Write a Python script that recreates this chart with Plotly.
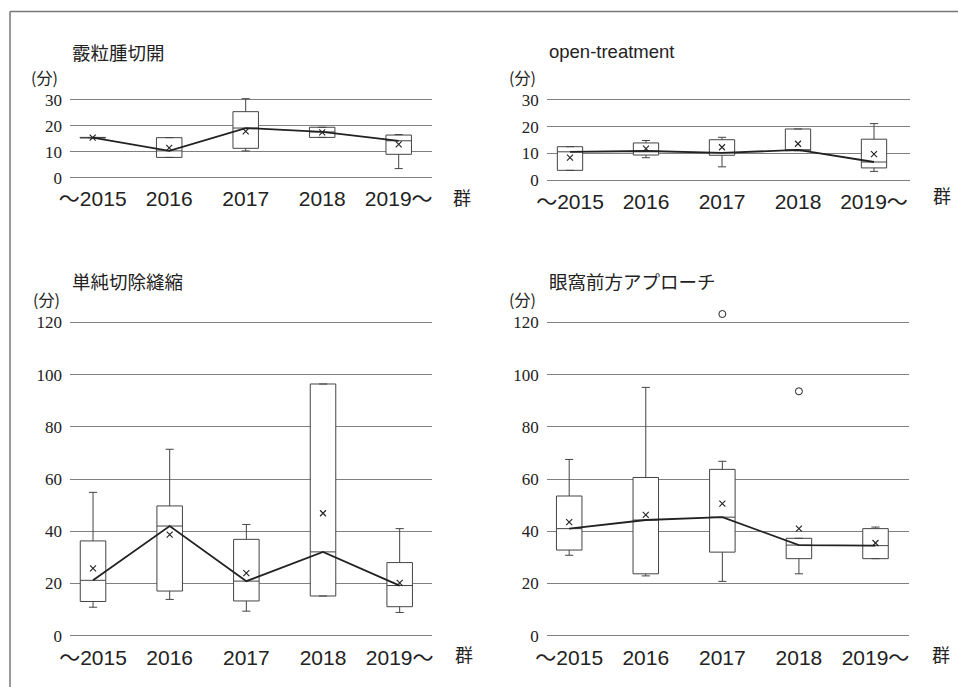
import plotly.graph_objects as go

# ---------------- data ----------------
groups = ["〜2015", "2016", "2017", "2018", "2019〜"]
x_label = "群"
y_unit = "(分)"

# Panel 1: 霰粒腫切開
p1_title = "霰粒腫切開"
p1_q1 = [15.3, 7.8, 11.3, 15.5, 9.0]
p1_median = [15.4, 10.3, 19.1, 17.6, 14.2]
p1_q3 = [15.5, 15.4, 25.4, 19.4, 16.4]
p1_low = [15.3, 7.8, 10.3, 15.5, 3.5]
p1_high = [15.5, 15.4, 30.4, 19.4, 16.6]
p1_mean = [15.4, 11.5, 17.8, 17.4, 12.8]
p1_out_x = []
p1_out_y = []
p1_ticks = [0, 10, 20, 30]

# Panel 2: open-treatment
p2_title = "open-treatment"
p2_q1 = [3.7, 9.4, 9.3, 11.0, 4.6]
p2_median = [10.6, 10.9, 10.2, 11.3, 6.8]
p2_q3 = [12.5, 13.9, 15.1, 19.1, 15.3]
p2_low = [3.7, 8.4, 5.0, 11.0, 3.3]
p2_high = [12.5, 14.8, 16.0, 19.1, 21.1]
p2_mean = [8.4, 11.8, 12.3, 13.6, 9.7]
p2_out_x = []
p2_out_y = []
p2_ticks = [0, 10, 20, 30]

# Panel 3: 単純切除縫縮
p3_title = "単純切除縫縮"
p3_q1 = [13.1, 17.1, 13.3, 15.2, 11.1]
p3_median = [21.2, 42.0, 20.9, 32.1, 19.2]
p3_q3 = [36.3, 49.7, 36.9, 96.4, 28.0]
p3_low = [10.9, 13.9, 9.4, 15.2, 8.9]
p3_high = [54.9, 71.4, 42.6, 96.4, 41.0]
p3_mean = [25.8, 38.7, 24.0, 46.9, 20.2]
p3_out_x = []
p3_out_y = []
p3_ticks = [0, 20, 40, 60, 80, 100, 120]

# Panel 4: 眼窩前方アプローチ
p4_title = "眼窩前方アプローチ"
p4_q1 = [32.8, 23.7, 32.0, 29.5, 29.5]
p4_median = [41.0, 44.3, 45.4, 34.7, 34.5]
p4_q3 = [53.5, 60.6, 63.7, 37.3, 41.0]
p4_low = [30.8, 22.9, 20.8, 23.7, 29.5]
p4_high = [67.5, 95.1, 66.8, 37.3, 41.6]
p4_mean = [43.5, 46.3, 50.6, 41.0, 35.5]
p4_out_x = ["2017", "2018"]
p4_out_y = [123.2, 93.6]
p4_ticks = [0, 20, 40, 60, 80, 100, 120]

# ---------------- layout helpers ----------------
W, H = 958, 687
INK = "#222222"
BOXLINE = "#444444"
GRID = "#808080"
SANS = "Liberation Sans, Noto Sans CJK JP, sans-serif"
SERIF = "Liberation Serif, Noto Serif CJK JP, serif"
JP = "Noto Sans CJK JP, sans-serif"


def px_x(v):
    return v / W


def px_y(v):
    return 1 - v / H


fig = go.Figure()

panels = [
    dict(title=p1_title, q1=p1_q1, med=p1_median, q3=p1_q3, lo=p1_low, hi=p1_high,
         mean=p1_mean, ox=p1_out_x, oy=p1_out_y, ticks=p1_ticks,
         xdom=(70, 432), xr=(-0.2967, 4.4353), ydom=(95.8, 179.0), yr=(-0.5, 31.5),
         tpos=(70, 51.7), upos=(44, 77), gpos=(461.7, 196.7)),
    dict(title=p2_title, q1=p2_q1, med=p2_median, q3=p2_q3, lo=p2_low, hi=p2_high,
         mean=p2_mean, ox=p2_out_x, oy=p2_out_y, ticks=p2_ticks,
         xdom=(546.7, 910), xr=(-0.3066, 4.4737), ydom=(95.7, 181.6), yr=(-0.5, 31.5),
         tpos=(546.7, 51.7), upos=(522, 77), gpos=(941.7, 195)),
    dict(title=p3_title, q1=p3_q1, med=p3_median, q3=p3_q3, lo=p3_low, hi=p3_high,
         mean=p3_mean, ox=p3_out_x, oy=p3_out_y, ticks=p3_ticks,
         xdom=(70, 432.3), xr=(-0.3003, 4.4256), ydom=(304.1, 638.3), yr=(-1, 127),
         tpos=(70, 280.7), upos=(46.7, 299.3), gpos=(464, 654)),
    dict(title=p4_title, q1=p4_q1, med=p4_median, q3=p4_q3, lo=p4_low, hi=p4_high,
         mean=p4_mean, ox=p4_out_x, oy=p4_out_y, ticks=p4_ticks,
         xdom=(546.7, 909), xr=(-0.2938, 4.4375), ydom=(304.1, 638.3), yr=(-1, 127),
         tpos=(546.7, 280.7), upos=(522.3, 299.3), gpos=(941, 654)),
]

idx = list(range(len(groups)))
annotations = []
layout_axes = {}

for i, p in enumerate(panels, start=1):
    xa = "x" if i == 1 else f"x{i}"
    ya = "y" if i == 1 else f"y{i}"
    fig.add_trace(go.Box(
        x=idx, q1=p["q1"], median=p["med"], q3=p["q3"],
        lowerfence=p["lo"], upperfence=p["hi"],
        width=0.333, whiskerwidth=0.32,
        fillcolor="white", line=dict(color=BOXLINE, width=1),
        boxpoints=False, showlegend=False, hoverinfo="skip",
        xaxis=xa, yaxis=ya,
    ))
    fig.add_trace(go.Scatter(
        x=idx, y=p["med"], mode="lines",
        line=dict(color=INK, width=1.8), showlegend=False, hoverinfo="skip",
        xaxis=xa, yaxis=ya,
    ))
    fig.add_trace(go.Scatter(
        x=idx, y=p["mean"], mode="markers",
        marker=dict(symbol="x-thin", size=6, line=dict(color=INK, width=1.1)),
        showlegend=False, hoverinfo="skip", xaxis=xa, yaxis=ya,
    ))
    if p["ox"]:
        fig.add_trace(go.Scatter(
            x=[groups.index(g) for g in p["ox"]], y=p["oy"], mode="markers",
            marker=dict(symbol="circle-open", size=7, color=INK, line=dict(color=INK, width=1)),
            showlegend=False, hoverinfo="skip", xaxis=xa, yaxis=ya, cliponaxis=False,
        ))

    xkey = "xaxis" if i == 1 else f"xaxis{i}"
    ykey = "yaxis" if i == 1 else f"yaxis{i}"
    layout_axes[xkey] = dict(
        domain=[px_x(p["xdom"][0]), px_x(p["xdom"][1])],
        range=list(p["xr"]), anchor=ya, automargin=False,
        tickmode="array", tickvals=idx, ticktext=groups,
        showgrid=False, zeroline=False, showline=False, ticks="",
        tickfont=dict(family=SANS, size=21, color=INK),
        ticklabelstandoff=5,
    )
    layout_axes[ykey] = dict(
        domain=[px_y(p["ydom"][1]), px_y(p["ydom"][0])],
        range=list(p["yr"]), anchor=xa, automargin=False,
        tickmode="array", tickvals=p["ticks"], ticktext=[str(t) for t in p["ticks"]],
        showgrid=True, gridcolor=GRID, gridwidth=1.4,
        zeroline=False, showline=False, ticks="",
        tickfont=dict(family=SERIF, size=17, color=INK),
        ticklabelstandoff=7,
    )
    annotations.append(dict(
        text=p["title"], x=px_x(p["tpos"][0]), y=px_y(p["tpos"][1]),
        xref="paper", yref="paper", xanchor="left", yanchor="middle",
        showarrow=False, font=dict(family=JP if i != 2 else SANS, size=18.5, color=INK),
    ))
    annotations.append(dict(
        text=y_unit, x=px_x(p["upos"][0]), y=px_y(p["upos"][1]),
        xref="paper", yref="paper", xanchor="center", yanchor="middle",
        showarrow=False, font=dict(family=JP, size=16, color=INK),
    ))
    annotations.append(dict(
        text=x_label, x=px_x(p["gpos"][0]), y=px_y(p["gpos"][1]),
        xref="paper", yref="paper", xanchor="center", yanchor="middle",
        showarrow=False, font=dict(family=JP, size=18, color=INK),
    ))

shapes = [
    dict(type="line", xref="paper", yref="paper",
         x0=px_x(10), x1=px_x(10), y0=-0.05, y1=px_y(11.5),
         line=dict(color="#777777", width=1.5)),
    dict(type="line", xref="paper", yref="paper",
         x0=px_x(10), x1=1.05, y0=px_y(11.5), y1=px_y(11.5),
         line=dict(color="#777777", width=1.5)),
]

fig.update_layout(
    width=W, height=H,
    margin=dict(l=0, r=0, t=0, b=0, autoexpand=False),
    paper_bgcolor="white", plot_bgcolor="white",
    showlegend=False,
    annotations=annotations,
    shapes=shapes,
    **layout_axes,
)

fig.write_html("out.html")
